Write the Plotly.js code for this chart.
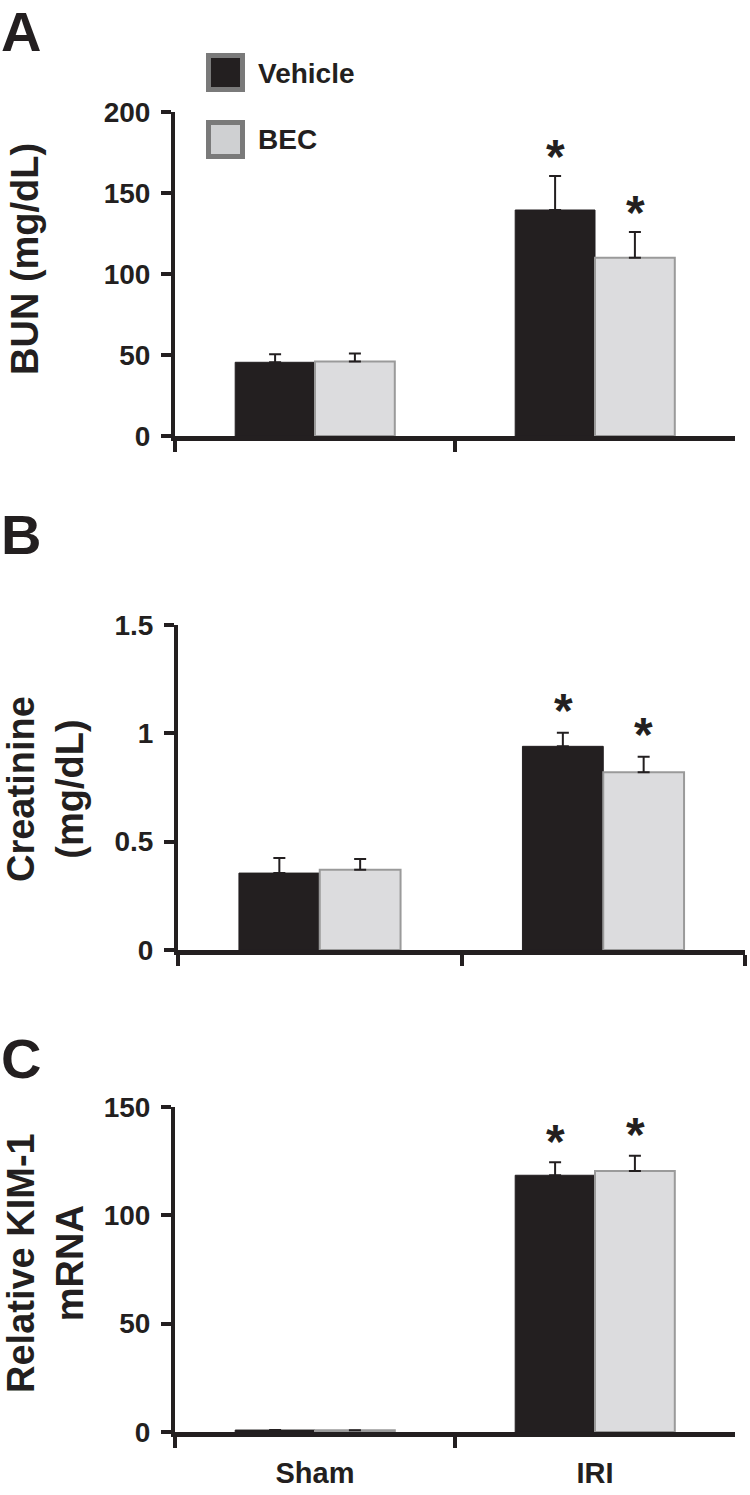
<!DOCTYPE html>
<html>
<head>
<meta charset="utf-8">
<script src="https://cdn.plot.ly/plotly-3.0.1.min.js"></script>
<style>
  html, body { margin: 0; padding: 0; background: #ffffff; }
  #chart { width: 750px; height: 1495px; }
</style>
</head>
<body>
<div id="chart"></div>
<script>
// ---------------- data ----------------
const categories = ['Sham', 'IRI'];
const seriesNames = ['Vehicle', 'BEC'];

const bunVehicle = [45.5, 139.5];
const bunVehicleErr = [5, 21];
const bunBEC = [46, 110];
const bunBECErr = [5, 16];

const creatVehicle = [0.355, 0.94];
const creatVehicleErr = [0.07, 0.063];
const creatBEC = [0.37, 0.82];
const creatBECErr = [0.05, 0.072];

const kimVehicle = [0.9, 118.5];
const kimVehicleErr = [0, 6];
const kimBEC = [0.8, 120.5];
const kimBECErr = [0, 7];

const sigVehicle = ['', '*'];
const sigBEC = ['', '*'];

const yTicksA = [0, 50, 100, 150, 200];
const yTicksB = [0, 0.5, 1, 1.5];
const yTickTextB = ['0', '0.5', '1', '1.5'];
const yTicksC = [0, 50, 100, 150];

// ---------------- styling ----------------
const W = 750, H = 1495;
const INK = '#231f20';
const FONT = 'Liberation Sans, Arial, Helvetica, sans-serif';
const vehColor = '#231f20';
const becColor = '#dcdcde';
const becLine = '#9a9a9a';

const px = v => v / W;
const py = v => 1 - v / H;

function barTrace(name, vals, errs, color, lineColor, lineW, xa, ya) {
  return {
    type: 'bar', name: name, x: categories, y: vals,
    xaxis: xa, yaxis: ya, showlegend: false,
    marker: { color: color, line: { color: lineColor, width: lineW } },
    error_y: { type: 'data', symmetric: false, array: errs,
               arrayminus: errs.map(() => 0), color: INK, thickness: 2, width: 6 },
    hoverinfo: 'skip'
  };
}

const panels = [
  { xa: 'x',  ya: 'y',  v: bunVehicle,   ve: bunVehicleErr,   b: bunBEC,   be: bunBECErr,   gap: 19 },
  { xa: 'x2', ya: 'y2', v: creatVehicle, ve: creatVehicleErr, b: creatBEC, be: creatBECErr, gap: 22 },
  { xa: 'x3', ya: 'y3', v: kimVehicle,   ve: kimVehicleErr,   b: kimBEC,   be: kimBECErr,   gap: 21 }
];

const data = [];
panels.forEach(p => {
  data.push(barTrace(seriesNames[0], p.v, p.ve, vehColor, vehColor, 1, p.xa, p.ya));
  data.push(barTrace(seriesNames[1], p.b, p.be, becColor, becLine, 2, p.xa, p.ya));
});

// significance stars
const annotations = [];
const starFont = { family: FONT, size: 48, color: INK, weight: 'bold' };
panels.forEach(p => {
  categories.forEach((c, i) => {
    if (sigVehicle[i]) annotations.push({
      xref: p.xa, yref: p.ya, x: c, y: p.v[i] + p.ve[i], xshift: -40, yshift: p.gap,
      text: sigVehicle[i], showarrow: false, xanchor: 'center', yanchor: 'middle', font: starFont
    });
    if (sigBEC[i]) annotations.push({
      xref: p.xa, yref: p.ya, x: c, y: p.b[i] + p.be[i], xshift: 40, yshift: p.gap,
      text: sigBEC[i], showarrow: false, xanchor: 'center', yanchor: 'middle', font: starFont
    });
  });
});

// panel letters
[['A', 31], ['B', 534], ['C', 1058]].forEach(([t, y]) => annotations.push({
  xref: 'paper', yref: 'paper', x: px(-1), y: py(y), xanchor: 'left', yanchor: 'middle',
  text: t, showarrow: false, font: { family: FONT, size: 56, color: INK, weight: 'bold' }
}));

// y titles
[['BUN (mg/dL)', 25, 259], ['Creatinine<br>(mg/dL)', 46, 789], ['Relative KIM-1<br>mRNA', 45, 1263]]
  .forEach(([t, x, y]) => annotations.push({
    xref: 'paper', yref: 'paper', x: px(x), y: py(y), xanchor: 'center', yanchor: 'middle',
    text: t, textangle: -90, showarrow: false,
    font: { family: FONT, size: 38, color: INK, weight: 'bold' }
  }));

// legend text
[[seriesNames[0], 73], [seriesNames[1], 140]].forEach(([t, y]) => annotations.push({
  xref: 'paper', yref: 'paper', x: px(256), y: py(y), xanchor: 'left', yanchor: 'middle',
  text: t, showarrow: false, font: { family: FONT, size: 28, color: INK, weight: 'bold' }
}));

// legend boxes
const shapes = [
  { type: 'rect', xref: 'paper', yref: 'paper', x0: px(208.5), x1: px(242.5), y0: py(55.5), y1: py(89.5),
    fillcolor: vehColor, line: { color: '#7a7a7a', width: 5 } },
  { type: 'rect', xref: 'paper', yref: 'paper', x0: px(208.5), x1: px(242.5), y0: py(122.5), y1: py(156.5),
    fillcolor: '#cfd0d2', line: { color: '#7a7a7a', width: 5 } }
];

function xAxis(domain, anchor, showLabels) {
  return {
    domain: domain, anchor: anchor, type: 'category', categoryorder: 'array', categoryarray: categories,
    range: [-0.5, 1.5], tickson: 'boundaries', ticks: 'outside', ticklen: 11, tickwidth: 4, tickcolor: INK,
    showline: true, linewidth: 5, linecolor: INK, showgrid: false, zeroline: false,
    showticklabels: showLabels, ticklabelstandoff: 11,
    tickfont: { family: FONT, size: 29, color: INK, weight: 'bold' }, fixedrange: true
  };
}
function yAxis(domain, anchor, range, tickvals, ticktext) {
  return {
    domain: domain, anchor: anchor, range: range, tickvals: tickvals, ticktext: ticktext,
    ticks: 'outside', ticklen: 10, tickwidth: 4, tickcolor: INK,
    showline: true, linewidth: 4, linecolor: INK, showgrid: false, zeroline: false,
    ticklabelstandoff: 5,
    tickfont: { family: FONT, size: 28, color: INK, weight: 'bold' }, fixedrange: true
  };
}

const layout = {
  width: W, height: H, margin: { l: 0, r: 0, t: 0, b: 0 },
  paper_bgcolor: '#ffffff', plot_bgcolor: '#ffffff',
  barmode: 'group', bargap: 0.43, bargroupgap: 0,
  showlegend: false,
  xaxis:  xAxis([px(175), px(735)], 'y', false),
  yaxis:  yAxis([py(436), py(112)], 'x', [0, 200], yTicksA, yTicksA.map(String)),
  xaxis2: xAxis([px(178), px(745)], 'y2', false),
  yaxis2: yAxis([py(950), py(625)], 'x2', [0, 1.5], yTicksB, yTickTextB),
  xaxis3: xAxis([px(175), px(735)], 'y3', true),
  yaxis3: yAxis([py(1432), py(1107)], 'x3', [0, 150], yTicksC, yTicksC.map(String)),
  annotations: annotations,
  shapes: shapes
};

Plotly.newPlot('chart', data, layout, { staticPlot: true, displayModeBar: false });
</script>
</body>
</html>
